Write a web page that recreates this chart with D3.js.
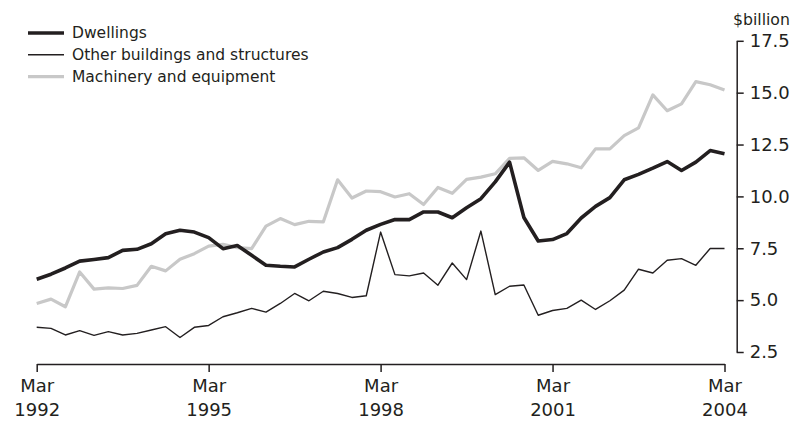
<!DOCTYPE html>
<html>
<head>
<meta charset="utf-8">
<script src="https://cdn.jsdelivr.net/npm/d3@7"></script>
<style>
  body { margin: 0; background: #fff; }
  svg text { font-family: "DejaVu Sans", sans-serif; fill: #231f20; }
</style>
</head>
<body>
<div id="chart"></div>
<script>
"use strict";

// quarterly values, Mar 1992 .. Mar 2004 ($billion)
const startYear = 1992;
const dwellings = [
    6.01, 6.25, 6.55, 6.88, 6.96, 7.05, 7.40, 7.45, 7.72, 8.20, 8.37, 8.28, 8.01,
    7.48, 7.63, 7.16, 6.68, 6.63, 6.60, 6.97, 7.32, 7.53, 7.93, 8.37, 8.65,
    8.89, 8.88, 9.25, 9.25, 8.97, 9.45, 9.89, 10.70, 11.65, 8.98, 7.85, 7.92,
    8.21, 8.96, 9.52, 9.94, 10.80, 11.06, 11.36, 11.68, 11.25, 11.65, 12.21, 12.05
];
const otherBuildings = [
    3.69, 3.64, 3.32, 3.53, 3.30, 3.48, 3.32, 3.40, 3.56, 3.72, 3.20, 3.69, 3.78,
    4.20, 4.39, 4.60, 4.42, 4.84, 5.32, 4.97, 5.43, 5.32, 5.13, 5.21, 8.28,
    6.23, 6.17, 6.31, 5.72, 6.79, 5.99, 8.33, 5.27, 5.67, 5.73, 4.27, 4.50,
    4.60, 5.00, 4.55, 4.97, 5.48, 6.49, 6.31, 6.92, 7.00, 6.68, 7.49, 7.49
];
const machinery = [
    4.84, 5.05, 4.68, 6.36, 5.53, 5.59, 5.56, 5.71, 6.63, 6.41, 6.97, 7.24, 7.60,
    7.69, 7.53, 7.48, 8.57, 8.93, 8.64, 8.80, 8.77, 10.80, 9.92, 10.26, 10.23,
    9.97, 10.13, 9.61, 10.43, 10.15, 10.82, 10.93, 11.09, 11.83, 11.86, 11.25, 11.69,
    11.57, 11.38, 12.29, 12.29, 12.93, 13.30, 14.89, 14.13, 14.46, 15.53, 15.38, 15.13
];
const seriesNames = ["Dwellings", "Other buildings and structures", "Machinery and equipment"];
const yTicks = [2.5, 5.0, 7.5, 10.0, 12.5, 15.0, 17.5];
const xTickYears = [1992, 1995, 1998, 2001, 2004];
const unitLabel = "$billion";

const width = 792, height = 421;
const ink = "#231f20";

const svg = d3.select("#chart").append("svg")
    .attr("width", width)
    .attr("height", height);

// x: quarter index from Mar 1992
const x = d3.scaleLinear()
    .domain([0, dwellings.length - 1])
    .range([36.7, 724.5]);

const y = d3.scaleLinear()
    .domain([2.5, 17.5])
    .range([352, 40.8]);

// lines (grey underneath, dwellings on top)
const styles = [
    { data: machinery, color: "#c8c8c8", w: 3.2 },
    { data: otherBuildings, color: ink, w: 1.4 },
    { data: dwellings, color: ink, w: 3.6 }
];

const line = d3.line()
    .x((d, i) => x(i))
    .y(d => y(d));

svg.selectAll("path.series")
    .data(styles)
    .enter()
    .append("path")
    .attr("class", "series")
    .attr("d", s => line(s.data))
    .attr("fill", "none")
    .attr("stroke", s => s.color)
    .attr("stroke-width", s => s.w)
    .attr("stroke-linejoin", "round");

// x axis
const xAxis = d3.axisBottom(x)
    .tickValues(xTickYears.map(yr => (yr - startYear) * 4))
    .tickSize(8)
    .tickSizeOuter(0)
    .tickFormat("");

const gx = svg.append("g")
    .attr("transform", "translate(0,364)")
    .call(xAxis);
gx.select(".domain").attr("stroke", ink).attr("stroke-width", 1.5);
gx.selectAll(".tick line").attr("stroke", ink).attr("stroke-width", 1.5);

const xl = gx.selectAll(".tick").append("text")
    .attr("text-anchor", "middle")
    .style("font-size", "18px")
    .attr("fill", ink);
xl.append("tspan").attr("x", 0).attr("y", 27.5).text("Mar");
xl.append("tspan").attr("x", 0).attr("y", 51.5).text((d, i) => xTickYears[i]);

// y axis on the right
const yAxis = d3.axisRight(y)
    .tickValues(yTicks)
    .tickSize(7)
    .tickSizeOuter(0)
    .tickPadding(6)
    .tickFormat(d3.format(".1f"));

const gy = svg.append("g")
    .attr("transform", "translate(736.7,0)")
    .call(yAxis);
gy.select(".domain").attr("stroke", ink).attr("stroke-width", 1.5);
gy.selectAll(".tick line").attr("stroke", ink).attr("stroke-width", 1.5);
gy.selectAll(".tick text")
    .attr("fill", ink)
    .style("font-family", "'DejaVu Sans', sans-serif")
    .style("font-size", "18px");

svg.append("text")
    .attr("x", 733)
    .attr("y", 25)
    .style("font-size", "15.7px")
    .text(unitLabel);

// legend
const legend = svg.append("g").attr("transform", "translate(28,33)");
const items = legend.selectAll("g")
    .data(seriesNames)
    .enter()
    .append("g")
    .attr("transform", (d, i) => "translate(0," + i * 21.8 + ")");

const legendStyles = [styles[2], styles[1], styles[0]];
items.append("line")
    .attr("x1", 0).attr("x2", 36)
    .attr("stroke", (d, i) => legendStyles[i].color)
    .attr("stroke-width", (d, i) => legendStyles[i].w);

items.append("text")
    .attr("x", 44)
    .attr("dy", "0.33em")
    .style("font-size", "15.5px")
    .text(d => d);
</script>
</body>
</html>
